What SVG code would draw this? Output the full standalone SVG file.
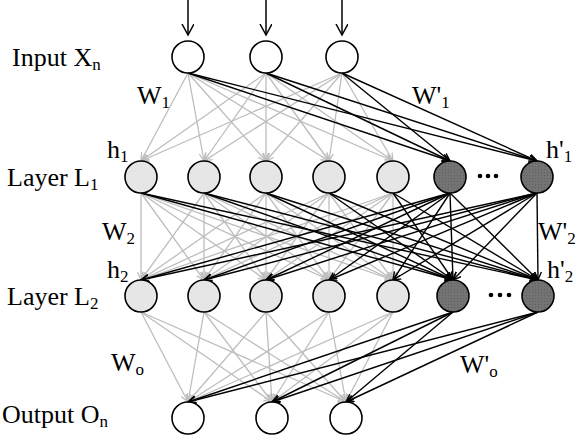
<svg xmlns="http://www.w3.org/2000/svg" width="576" height="436" viewBox="0 0 576 436">
<style>
text{font-family:"Liberation Serif","Times New Roman",serif;font-size:26px;fill:#000}
.s{font-size:17px}
.g{stroke:#bdbdbd;stroke-width:1.3;marker-end:url(#ag);fill:none}
.k{stroke:#000;stroke-width:1.4;marker-end:url(#ak);fill:none}
.in{stroke:#000;stroke-width:1.5;marker-end:url(#ai);fill:none}
.w{fill:#fff;stroke:#000;stroke-width:1.6}
.l{fill:#e6e6e6;stroke:#000;stroke-width:1.6}
.d{fill:url(#st);stroke:#000;stroke-width:1.6}
.dot{fill:#000}
</style>
<defs>
<marker id="ag" markerUnits="userSpaceOnUse" markerWidth="10" markerHeight="10" refX="8" refY="4" orient="auto"><path d="M0,0.5 L8,4 L0,7.5" fill="none" stroke="#bdbdbd" stroke-width="1.3"/></marker>
<marker id="ak" markerUnits="userSpaceOnUse" markerWidth="10" markerHeight="10" refX="8" refY="4" orient="auto"><path d="M0,0.5 L8,4 L0,7.5" fill="none" stroke="#000" stroke-width="1.4"/></marker>
<marker id="ai" markerUnits="userSpaceOnUse" markerWidth="14" markerHeight="14" refX="11" refY="6" orient="auto"><path d="M0,0 L11,6 L0,12" fill="none" stroke="#000" stroke-width="1.5"/></marker>
<pattern id="st" width="3" height="3" patternUnits="userSpaceOnUse"><rect width="3" height="3" fill="#737373"/><rect x="1" y="1" width="1" height="1" fill="#606060"/></pattern>
</defs>
<g id="connectors">
<line class="in" x1="188" y1="0" x2="188" y2="35"/>
<line class="in" x1="266" y1="0" x2="266" y2="35"/>
<line class="in" x1="342" y1="0" x2="342" y2="35"/>
<line class="g" x1="188" y1="73" x2="141" y2="161"/>
<line class="g" x1="188" y1="73" x2="204" y2="161"/>
<line class="g" x1="188" y1="73" x2="266" y2="161"/>
<line class="g" x1="188" y1="73" x2="329" y2="161"/>
<line class="g" x1="188" y1="73" x2="393" y2="161"/>
<line class="g" x1="266" y1="73" x2="141" y2="161"/>
<line class="g" x1="266" y1="73" x2="204" y2="161"/>
<line class="g" x1="266" y1="73" x2="266" y2="161"/>
<line class="g" x1="266" y1="73" x2="329" y2="161"/>
<line class="g" x1="266" y1="73" x2="393" y2="161"/>
<line class="g" x1="342" y1="73" x2="141" y2="161"/>
<line class="g" x1="342" y1="73" x2="204" y2="161"/>
<line class="g" x1="342" y1="73" x2="266" y2="161"/>
<line class="g" x1="342" y1="73" x2="329" y2="161"/>
<line class="g" x1="342" y1="73" x2="393" y2="161"/>
<line class="g" x1="141" y1="193" x2="141" y2="280"/>
<line class="g" x1="141" y1="193" x2="204" y2="280"/>
<line class="g" x1="141" y1="193" x2="266" y2="280"/>
<line class="g" x1="141" y1="193" x2="329" y2="280"/>
<line class="g" x1="141" y1="193" x2="393" y2="280"/>
<line class="g" x1="204" y1="193" x2="141" y2="280"/>
<line class="g" x1="204" y1="193" x2="204" y2="280"/>
<line class="g" x1="204" y1="193" x2="266" y2="280"/>
<line class="g" x1="204" y1="193" x2="329" y2="280"/>
<line class="g" x1="204" y1="193" x2="393" y2="280"/>
<line class="g" x1="266" y1="193" x2="141" y2="280"/>
<line class="g" x1="266" y1="193" x2="204" y2="280"/>
<line class="g" x1="266" y1="193" x2="266" y2="280"/>
<line class="g" x1="266" y1="193" x2="329" y2="280"/>
<line class="g" x1="266" y1="193" x2="393" y2="280"/>
<line class="g" x1="329" y1="193" x2="141" y2="280"/>
<line class="g" x1="329" y1="193" x2="204" y2="280"/>
<line class="g" x1="329" y1="193" x2="266" y2="280"/>
<line class="g" x1="329" y1="193" x2="329" y2="280"/>
<line class="g" x1="329" y1="193" x2="393" y2="280"/>
<line class="g" x1="393" y1="193" x2="141" y2="280"/>
<line class="g" x1="393" y1="193" x2="204" y2="280"/>
<line class="g" x1="393" y1="193" x2="266" y2="280"/>
<line class="g" x1="393" y1="193" x2="329" y2="280"/>
<line class="g" x1="393" y1="193" x2="393" y2="280"/>
<line class="g" x1="141" y1="312" x2="188" y2="402"/>
<line class="g" x1="141" y1="312" x2="272" y2="402"/>
<line class="g" x1="141" y1="312" x2="346" y2="402"/>
<line class="g" x1="204" y1="312" x2="188" y2="402"/>
<line class="g" x1="204" y1="312" x2="272" y2="402"/>
<line class="g" x1="204" y1="312" x2="346" y2="402"/>
<line class="g" x1="266" y1="312" x2="188" y2="402"/>
<line class="g" x1="266" y1="312" x2="272" y2="402"/>
<line class="g" x1="266" y1="312" x2="346" y2="402"/>
<line class="g" x1="329" y1="312" x2="188" y2="402"/>
<line class="g" x1="329" y1="312" x2="272" y2="402"/>
<line class="g" x1="329" y1="312" x2="346" y2="402"/>
<line class="g" x1="393" y1="312" x2="188" y2="402"/>
<line class="g" x1="393" y1="312" x2="272" y2="402"/>
<line class="g" x1="393" y1="312" x2="346" y2="402"/>
<line class="k" x1="188" y1="73" x2="450" y2="161"/>
<line class="k" x1="188" y1="73" x2="537" y2="161"/>
<line class="k" x1="266" y1="73" x2="450" y2="161"/>
<line class="k" x1="266" y1="73" x2="537" y2="161"/>
<line class="k" x1="342" y1="73" x2="450" y2="161"/>
<line class="k" x1="342" y1="73" x2="537" y2="161"/>
<line class="k" x1="141" y1="193" x2="453" y2="280"/>
<line class="k" x1="141" y1="193" x2="538" y2="280"/>
<line class="k" x1="204" y1="193" x2="453" y2="280"/>
<line class="k" x1="204" y1="193" x2="538" y2="280"/>
<line class="k" x1="266" y1="193" x2="453" y2="280"/>
<line class="k" x1="266" y1="193" x2="538" y2="280"/>
<line class="k" x1="329" y1="193" x2="453" y2="280"/>
<line class="k" x1="329" y1="193" x2="538" y2="280"/>
<line class="k" x1="393" y1="193" x2="453" y2="280"/>
<line class="k" x1="393" y1="193" x2="538" y2="280"/>
<line class="k" x1="450" y1="193" x2="141" y2="280"/>
<line class="k" x1="450" y1="193" x2="204" y2="280"/>
<line class="k" x1="450" y1="193" x2="266" y2="280"/>
<line class="k" x1="450" y1="193" x2="329" y2="280"/>
<line class="k" x1="450" y1="193" x2="393" y2="280"/>
<line class="k" x1="450" y1="193" x2="453" y2="280"/>
<line class="k" x1="450" y1="193" x2="538" y2="280"/>
<line class="k" x1="537" y1="193" x2="141" y2="280"/>
<line class="k" x1="537" y1="193" x2="204" y2="280"/>
<line class="k" x1="537" y1="193" x2="266" y2="280"/>
<line class="k" x1="537" y1="193" x2="329" y2="280"/>
<line class="k" x1="537" y1="193" x2="393" y2="280"/>
<line class="k" x1="537" y1="193" x2="453" y2="280"/>
<line class="k" x1="537" y1="193" x2="538" y2="280"/>
<line class="k" x1="453" y1="312" x2="188" y2="402"/>
<line class="k" x1="453" y1="312" x2="272" y2="402"/>
<line class="k" x1="453" y1="312" x2="346" y2="402"/>
<line class="k" x1="538" y1="312" x2="188" y2="402"/>
<line class="k" x1="538" y1="312" x2="272" y2="402"/>
<line class="k" x1="538" y1="312" x2="346" y2="402"/>
</g>
<g id="input-layer">
<circle id="x1" class="w" cx="188" cy="57" r="16"/>
<circle id="x2" class="w" cx="266" cy="57" r="16"/>
<circle id="x3" class="w" cx="342" cy="57" r="16"/>
</g>
<g id="layer-l1">
<circle id="l1-1" class="l" cx="141" cy="177" r="16"/>
<circle id="l1-2" class="l" cx="204" cy="177" r="16"/>
<circle id="l1-3" class="l" cx="266" cy="177" r="16"/>
<circle id="l1-4" class="l" cx="329" cy="177" r="16"/>
<circle id="l1-5" class="l" cx="393" cy="177" r="16"/>
<circle id="l1-d1" class="d" cx="450" cy="177" r="16"/>
<circle id="l1-d2" class="d" cx="537" cy="177" r="16"/>
<circle class="dot" cx="480" cy="176" r="2.3"/>
<circle class="dot" cx="488" cy="176" r="2.3"/>
<circle class="dot" cx="496" cy="176" r="2.3"/>
</g>
<g id="layer-l2">
<circle id="l2-1" class="l" cx="141" cy="296" r="16"/>
<circle id="l2-2" class="l" cx="204" cy="296" r="16"/>
<circle id="l2-3" class="l" cx="266" cy="296" r="16"/>
<circle id="l2-4" class="l" cx="329" cy="296" r="16"/>
<circle id="l2-5" class="l" cx="393" cy="296" r="16"/>
<circle id="l2-d1" class="d" cx="453" cy="296" r="16"/>
<circle id="l2-d2" class="d" cx="538" cy="296" r="16"/>
<circle class="dot" cx="491" cy="295" r="2.3"/>
<circle class="dot" cx="500" cy="295" r="2.3"/>
<circle class="dot" cx="509" cy="295" r="2.3"/>
</g>
<g id="output-layer">
<circle id="o1" class="w" cx="188" cy="418" r="16"/>
<circle id="o2" class="w" cx="272" cy="418" r="16"/>
<circle id="o3" class="w" cx="346" cy="418" r="16"/>
</g>
<g id="labels">
<text x="12" y="66">Input X<tspan class="s" dy="4">n</tspan></text>
<text x="7" y="186">Layer L<tspan class="s" dy="4">1</tspan></text>
<text x="7" y="305">Layer L<tspan class="s" dy="4">2</tspan></text>
<text x="2" y="423">Output O<tspan class="s" dy="4">n</tspan></text>
<text x="137" y="104">W<tspan class="s" dy="4">1</tspan></text>
<text x="412" y="104">W'<tspan class="s" dy="4">1</tspan></text>
<text x="102" y="240">W<tspan class="s" dy="4">2</tspan></text>
<text x="538" y="240">W'<tspan class="s" dy="4">2</tspan></text>
<text x="111" y="371">W<tspan class="s" dy="4">o</tspan></text>
<text x="460" y="373">W'<tspan class="s" dy="4">o</tspan></text>
<text x="107" y="158">h<tspan class="s" dy="4">1</tspan></text>
<text x="546" y="158">h'<tspan class="s" dy="4">1</tspan></text>
<text x="107" y="278">h<tspan class="s" dy="4">2</tspan></text>
<text x="547" y="278">h'<tspan class="s" dy="4">2</tspan></text>
</g>
</svg>
